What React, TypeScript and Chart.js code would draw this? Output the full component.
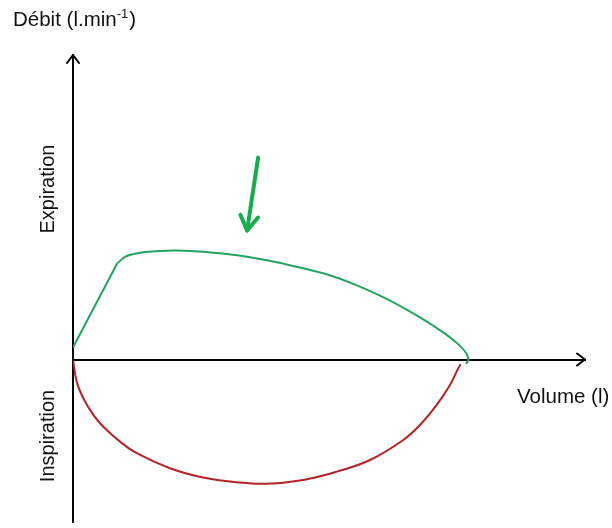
import React, { useEffect, useRef } from "react";
import { Chart, registerables } from "chart.js";

Chart.register(...registerables);

// Volume (l) on x, flow on y (arbitrary units)
const X_MIN = 0;
const X_MAX = 6.5;
const Y_MIN = -12;
const Y_MAX = 22.5;

const expirationRise = [
  { x: 0, y: 0.89 },
  { x: 0.562, y: 7.11 },
];

const expirationCurve = [
  { x: 0.562, y: 7.11 },
  { x: 0.682, y: 7.65 },
  { x: 0.892, y: 7.93 },
  { x: 1.104, y: 8.02 },
  { x: 1.316, y: 8.05 },
  { x: 1.654, y: 7.97 },
  { x: 1.951, y: 7.8 },
  { x: 2.247, y: 7.56 },
  { x: 2.586, y: 7.19 },
  { x: 2.924, y: 6.74 },
  { x: 3.221, y: 6.3 },
  { x: 3.558, y: 5.59 },
  { x: 3.982, y: 4.48 },
  { x: 4.405, y: 3.11 },
  { x: 4.744, y: 1.82 },
  { x: 4.913, y: 1.01 },
  { x: 4.998, y: 0.41 },
  { x: 5.018, y: -0.03 },
  { x: 4.99, y: -0.32 },
];

const inspirationCurve = [
  { x: 0, y: 0 },
  { x: 0.047, y: -1.63 },
  { x: 0.131, y: -2.86 },
  { x: 0.258, y: -4.09 },
  { x: 0.385, y: -4.96 },
  { x: 0.597, y: -6.06 },
  { x: 0.809, y: -6.92 },
  { x: 1.231, y: -8.03 },
  { x: 1.654, y: -8.72 },
  { x: 2.078, y: -9.06 },
  { x: 2.459, y: -9.17 },
  { x: 2.924, y: -8.89 },
  { x: 3.348, y: -8.28 },
  { x: 3.771, y: -7.42 },
  { x: 4.193, y: -5.94 },
  { x: 4.405, y: -4.83 },
  { x: 4.617, y: -3.35 },
  { x: 4.786, y: -1.88 },
  { x: 4.891, y: -0.64 },
  { x: 4.922, y: -0.35 },
];

const arrowStart = { x: 2.35, y: 14.92 };
const arrowEnd = { x: 2.21, y: 9.53 };

const yTitle = "Débit (l.min";
const yTitleSup = "-1";
const yTitleEnd = ")";
const xTitle = "Volume (l)";
const upperLabel = "Expiration";
const lowerLabel = "Inspiration";

const GREEN = "#25a35f";
const ARROW_GREEN = "#16ad4c";
const RED = "#b32429";
const FONT = "Liberation Sans, Arial, sans-serif";

const decorPlugin = {
  id: "decor",
  afterDraw(chart: any) {
    const ctx = chart.ctx as CanvasRenderingContext2D;
    const xs = chart.scales.x;
    const ys = chart.scales.y;
    const x0 = xs.getPixelForValue(0);
    const y0 = ys.getPixelForValue(0);
    ctx.save();
    // axis arrowheads
    ctx.strokeStyle = "#000";
    ctx.lineWidth = 2;
    ctx.lineCap = "round";
    ctx.lineJoin = "round";
    const top = ys.top;
    ctx.beginPath();
    ctx.moveTo(x0 - 6, top + 8);
    ctx.lineTo(x0, top);
    ctx.lineTo(x0 + 6, top + 8);
    ctx.stroke();
    const right = xs.right;
    ctx.beginPath();
    ctx.moveTo(right - 8, y0 - 6);
    ctx.lineTo(right, y0);
    ctx.lineTo(right - 8, y0 + 6);
    ctx.stroke();

    // green annotation arrow
    const ax1 = xs.getPixelForValue(arrowStart.x);
    const ay1 = ys.getPixelForValue(arrowStart.y);
    const ax2 = xs.getPixelForValue(arrowEnd.x);
    const ay2 = ys.getPixelForValue(arrowEnd.y);
    ctx.strokeStyle = ARROW_GREEN;
    ctx.lineWidth = 4;
    ctx.lineCap = "round";
    ctx.beginPath();
    ctx.moveTo(ax1, ay1);
    ctx.lineTo(ax2, ay2);
    ctx.stroke();
    const ang = Math.atan2(ay2 - ay1, ax2 - ax1);
    const hl = 17;
    const spread = 0.55;
    ctx.beginPath();
    ctx.moveTo(ax2 - hl * Math.cos(ang - spread), ay2 - hl * Math.sin(ang - spread));
    ctx.lineTo(ax2, ay2);
    ctx.lineTo(ax2 - hl * Math.cos(ang + spread), ay2 - hl * Math.sin(ang + spread));
    ctx.stroke();

    // texts
    ctx.fillStyle = "#111";
    const big = `20.5px ${FONT}`;
    ctx.font = big;
    ctx.textBaseline = "alphabetic";
    ctx.textAlign = "left";
    let tx = 13;
    const ty = 26;
    ctx.fillText(yTitle, tx, ty);
    tx += ctx.measureText(yTitle).width;
    ctx.font = `13px ${FONT}`;
    ctx.fillText(yTitleSup, tx, ty - 8);
    tx += ctx.measureText(yTitleSup).width;
    ctx.font = big;
    ctx.fillText(yTitleEnd, tx + 1, ty);

    ctx.fillText(xTitle, 517, 403);

    ctx.font = `20px ${FONT}`;
    ctx.textAlign = "center";
    ctx.textBaseline = "middle";
    ctx.save();
    ctx.translate(48, 189);
    ctx.rotate(-Math.PI / 2);
    ctx.fillText(upperLabel, 0, 0);
    ctx.restore();
    ctx.save();
    ctx.translate(48, 436);
    ctx.rotate(-Math.PI / 2);
    ctx.fillText(lowerLabel, 0, 0);
    ctx.restore();
    ctx.restore();
  },
};

export default function App() {
  const ref = useRef<HTMLCanvasElement | null>(null);
  useEffect(() => {
    if (!ref.current) return;
    const base = { showLine: true, borderWidth: 2, pointRadius: 0 };
    const chart = new Chart(ref.current, {
      type: "scatter",
      data: {
        datasets: [
          { ...base, data: expirationRise, borderColor: GREEN, tension: 0 },
          { ...base, data: expirationCurve, borderColor: GREEN, tension: 0.4 },
          { ...base, data: inspirationCurve, borderColor: RED, tension: 0.4 },
        ] as any,
      },
      options: {
        responsive: false,
        animation: false,
        layout: { padding: { left: 73, right: 27, top: 55, bottom: 6 } },
        plugins: {
          legend: { display: false },
          tooltip: { enabled: false },
          title: { display: false },
        },
        scales: {
          x: {
            type: "linear",
            min: X_MIN,
            max: X_MAX,
            position: { y: 0 } as any,
            ticks: { display: false },
            grid: { display: false },
            border: { display: true, color: "#000", width: 2 },
          },
          y: {
            type: "linear",
            min: Y_MIN,
            max: Y_MAX,
            position: { x: 0 } as any,
            ticks: { display: false },
            grid: { display: false },
            border: { display: true, color: "#000", width: 2 },
          },
        },
      },
      plugins: [decorPlugin],
    });
    return () => chart.destroy();
  }, []);
  return (
    <div style={{ position: "absolute", left: 0, top: 0, width: 612, height: 528, background: "#fff" }}>
      <canvas ref={ref} width={612} height={528} />
    </div>
  );
}
